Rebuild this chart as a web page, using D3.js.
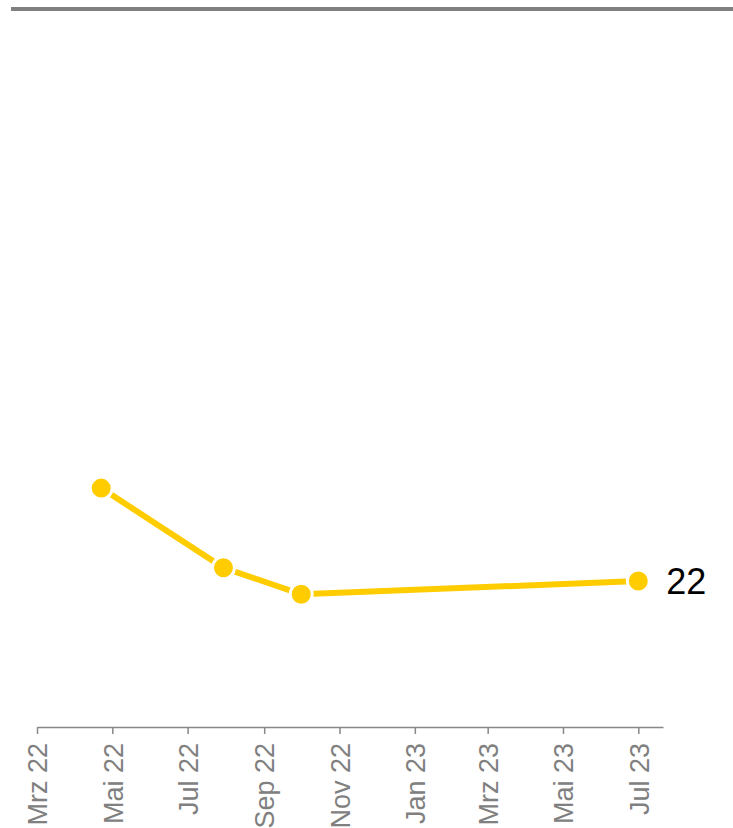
<!DOCTYPE html>
<html>
<head>
<meta charset="utf-8">
<script src="https://cdn.jsdelivr.net/npm/d3@7"></script>
<style>
  body { margin: 0; background: #fff; font-family: "Liberation Sans", Arial, sans-serif; }
  #chart { width: 733px; height: 828px; }
</style>
</head>
<body>
<div id="chart"></div>
<script>
// data
const dates = ["2022-04-22", "2022-07-30", "2022-10-01", "2023-07-01"];
const values = [36, 24, 20, 22];
const tickDates = ["2022-03-01", "2022-05-01", "2022-07-01", "2022-09-01", "2022-11-01",
                   "2023-01-01", "2023-03-01", "2023-05-01", "2023-07-01"];
const monthNames = ["Jan", "Feb", "Mrz", "Apr", "Mai", "Jun", "Jul", "Aug", "Sep", "Okt", "Nov", "Dez"];

const parse = d3.timeParse("%Y-%m-%d");
const points = dates.map((d, i) => ({ date: parse(d), value: values[i] }));

const width = 733, height = 828;

const svg = d3.select('#chart')
    .append('svg')
    .attr('width', width)
    .attr('height', height);

// top rule
svg.append('rect')
    .attr('x', 11)
    .attr('y', 7)
    .attr('width', width - 11)
    .attr('height', 4)
    .attr('fill', '#808080');

const x = d3.scaleTime()
    .domain([parse("2022-03-01"), parse("2023-07-21")])
    .range([37, 663]);

const y = d3.scaleLinear()
    .domain([0, 100])
    .range([727, 63.4]);

const xAxis = d3.axisBottom(x)
    .tickValues(tickDates.map(parse))
    .tickSize(7)
    .tickSizeOuter(0)
    .tickFormat(d => monthNames[d.getMonth()] + ' ' + d3.timeFormat('%y')(d));

const gx = svg.append('g')
    .attr('transform', `translate(0,${y(0)})`)
    .call(xAxis);

gx.select('.domain').attr('stroke', '#888').attr('stroke-width', 1.5);
gx.selectAll('.tick line').attr('stroke', '#888').attr('stroke-width', 1.5);
gx.selectAll('.tick text')
    .attr('fill', '#808080')
    .attr('font-size', '27px')
    .attr('font-family', '"Liberation Sans", Arial, sans-serif')
    .attr('text-anchor', 'end')
    .attr('transform', 'rotate(-90)')
    .attr('x', -16)
    .attr('y', 0)
    .attr('dy', '0.36em');

const line = d3.line()
    .x(d => x(d.date))
    .y(d => y(d.value));

svg.append('path')
    .datum(points)
    .attr('d', line)
    .attr('fill', 'none')
    .attr('stroke', '#ffcc00')
    .attr('stroke-width', 6);

svg.selectAll('circle.pt')
    .data(points)
    .join('circle')
    .attr('class', 'pt')
    .attr('cx', d => x(d.date))
    .attr('cy', d => y(d.value))
    .attr('r', 11)
    .attr('fill', '#ffcc00')
    .attr('stroke', '#fff')
    .attr('stroke-width', 3);

// end label
const last = points[points.length - 1];
svg.append('text')
    .attr('x', x(last.date) + 28)
    .attr('y', y(last.value))
    .attr('dy', '0.36em')
    .attr('font-size', '36px')
    .attr('fill', '#000')
    .text(last.value);
</script>
</body>
</html>
